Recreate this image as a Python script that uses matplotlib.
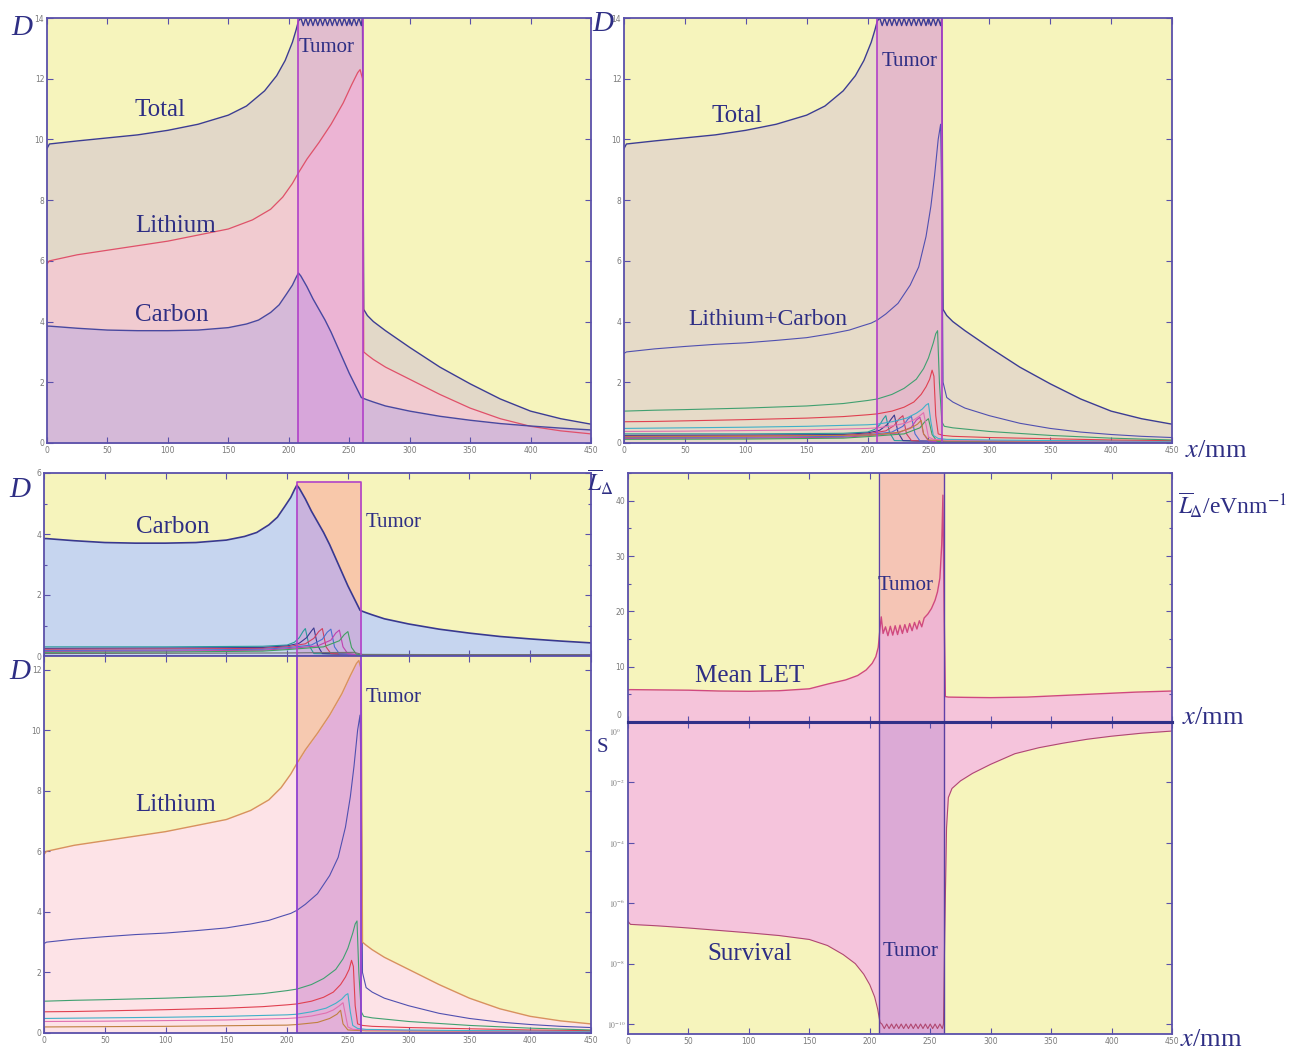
import numpy as np
import matplotlib
matplotlib.use("Agg")
import matplotlib.pyplot as plt
from matplotlib.ticker import MultipleLocator, FixedLocator, FixedFormatter, FuncFormatter, NullLocator

plt.rcParams['font.family'] = ['Liberation Serif', 'DejaVu Serif']
plt.rcParams['mathtext.fontset'] = 'stix'

# ---------------- data ----------------
tumor_range = [208, 261]
x_ticks = [0, 50, 100, 150, 200, 250, 300, 350, 400, 450]

total_x = [0, 2, 25, 50, 75, 100, 125, 150, 165, 180, 190, 197, 203, 206, 208,
           210, 212, 214, 216, 218, 220, 222, 224, 226, 228, 230, 232, 234,
           236, 238, 240, 242, 244, 246, 248, 250, 252, 254, 256, 258, 260, 261,
           262, 265, 270, 280, 300, 325, 350, 375, 400, 425, 450]
total_y = [9.7, 9.85, 9.95, 10.05, 10.15, 10.3, 10.5, 10.8, 11.1, 11.6, 12.1, 12.6, 13.2, 13.6, 13.9,
           14.0, 13.75, 14.0, 13.75, 14.0, 13.75, 14.0, 13.75, 14.0, 13.75, 14.0, 13.75, 14.0,
           13.75, 14.0, 13.75, 14.0, 13.75, 14.0, 13.75, 14.0, 13.75, 14.0, 13.75, 14.0, 13.75, 14.0,
           4.4, 4.2, 4.0, 3.7, 3.15, 2.5, 1.95, 1.45, 1.05, 0.8, 0.62]

li_x = [0, 2, 25, 50, 75, 100, 125, 150, 170, 185, 195, 203, 208, 215, 225, 235, 245, 252, 257, 259, 261,
        262, 265, 270, 280, 300, 325, 350, 375, 400, 425, 450]
li_y = [5.9, 6.0, 6.2, 6.35, 6.5, 6.65, 6.85, 7.05, 7.35, 7.7, 8.1, 8.55, 8.9, 9.35, 9.9, 10.5, 11.2, 11.8, 12.2, 12.3, 12.0,
        3.0, 2.9, 2.75, 2.5, 2.1, 1.6, 1.15, 0.8, 0.55, 0.4, 0.3]

c_x = [0, 2, 25, 50, 75, 100, 125, 150, 165, 175, 185, 192, 198, 203, 206, 208,
       210, 215, 220, 225, 230, 235, 240, 245, 250, 255, 260,
       261, 265, 270, 280, 300, 325, 350, 375, 400, 425, 450]
c_y = [3.85, 3.85, 3.78, 3.72, 3.7, 3.7, 3.72, 3.8, 3.92, 4.05, 4.3, 4.55, 4.9, 5.2, 5.45, 5.6,
       5.5, 5.15, 4.75, 4.4, 4.05, 3.65, 3.2, 2.75, 2.3, 1.9, 1.5,
       1.48, 1.42, 1.35, 1.22, 1.05, 0.88, 0.75, 0.64, 0.56, 0.49, 0.43]

# lithium-beam component curves
lb_x = [0, 2, 25, 50, 75, 100, 125, 150, 170, 185, 195, 203, 208,
        215, 225, 235, 242, 248, 252, 255, 258, 260, 261,
        262, 265, 270, 280, 300, 325, 350, 375, 400, 425, 450]
lb_y = [2.95, 3.0, 3.1, 3.18, 3.25, 3.3, 3.38, 3.47, 3.6, 3.72, 3.85, 3.95, 4.05,
        4.25, 4.6, 5.2, 5.8, 6.8, 7.8, 8.8, 10.0, 10.5, 8.0,
        2.0, 1.5, 1.35, 1.15, 0.9, 0.65, 0.48, 0.36, 0.28, 0.22, 0.18]
lg_x = [0, 25, 50, 100, 150, 180, 200, 208, 220, 230, 240, 246, 250, 254, 256, 257.5, 259, 261, 263, 270, 300, 350, 400, 450]
lg_y = [1.05, 1.08, 1.1, 1.15, 1.22, 1.3, 1.4, 1.45, 1.6, 1.8, 2.1, 2.45, 2.8, 3.3, 3.6, 3.7, 2.0, 0.7, 0.55, 0.5, 0.38, 0.25, 0.16, 0.1]
lr_x = [0, 25, 50, 100, 150, 180, 200, 208, 220, 230, 238, 244, 248, 251, 253, 254.5, 256, 258, 262, 270, 300, 350, 400, 450]
lr_y = [0.7, 0.71, 0.73, 0.77, 0.82, 0.87, 0.93, 0.96, 1.05, 1.18, 1.35, 1.6, 1.85, 2.1, 2.4, 2.2, 0.9, 0.3, 0.25, 0.22, 0.18, 0.14, 0.1, 0.08]
lc_x = [0, 50, 100, 150, 200, 208, 220, 232, 240, 245, 248, 250, 252, 254, 258, 265, 300, 350, 400, 450]
lc_y = [0.48, 0.5, 0.52, 0.55, 0.6, 0.62, 0.7, 0.82, 0.98, 1.12, 1.25, 1.3, 0.7, 0.25, 0.15, 0.12, 0.1, 0.08, 0.07, 0.06]
lp_x = [0, 50, 100, 150, 200, 208, 220, 232, 238, 243, 246, 248, 250, 254, 265, 300, 400, 450]
lp_y = [0.38, 0.39, 0.41, 0.43, 0.48, 0.5, 0.56, 0.66, 0.76, 0.9, 1.0, 0.6, 0.2, 0.12, 0.1, 0.08, 0.05, 0.04]
lo_x = [0, 100, 200, 208, 225, 235, 241, 244, 246, 250, 265, 450]
lo_y = [0.2, 0.22, 0.26, 0.28, 0.35, 0.48, 0.62, 0.75, 0.3, 0.1, 0.07, 0.04]

# carbon-beam component curves
cf1_x = [0, 100, 180, 200, 206, 210, 213, 215, 218, 222, 262, 450]
cf1_y = [0.3, 0.3, 0.32, 0.36, 0.45, 0.6, 0.8, 0.9, 0.35, 0.08, 0.05, 0.04]
cf2_x = [0, 100, 180, 200, 210, 216, 220, 222, 225, 229, 262, 450]
cf2_y = [0.25, 0.26, 0.28, 0.33, 0.42, 0.6, 0.82, 0.92, 0.35, 0.08, 0.04, 0.03]
cf3_x = [0, 100, 180, 200, 215, 222, 226, 229, 232, 236, 262, 450]
cf3_y = [0.22, 0.23, 0.25, 0.3, 0.4, 0.58, 0.8, 0.9, 0.3, 0.08, 0.04, 0.03]
cf4_x = [0, 100, 180, 200, 220, 229, 233, 236, 239, 243, 262, 450]
cf4_y = [0.18, 0.19, 0.22, 0.27, 0.36, 0.55, 0.78, 0.88, 0.3, 0.07, 0.03, 0.02]
cf5_x = [0, 100, 180, 200, 225, 236, 240, 243, 246, 250, 262, 450]
cf5_y = [0.15, 0.16, 0.19, 0.24, 0.33, 0.52, 0.75, 0.85, 0.3, 0.07, 0.03, 0.02]
cf6_x = [0, 100, 180, 200, 230, 243, 247, 250, 253, 257, 262, 450]
cf6_y = [0.12, 0.13, 0.16, 0.21, 0.3, 0.5, 0.7, 0.8, 0.28, 0.06, 0.03, 0.02]
cz_x = [0, 200, 255, 262, 450]
cz_y = [0.08, 0.1, 0.12, 0.05, 0.04]

let_x = [0, 2, 25, 50, 75, 100, 125, 150, 166, 180, 190, 197, 202, 205, 207, 208.5, 209.5,
         211, 213, 215, 217, 219, 221, 223, 225, 227, 229, 231, 233, 235, 237, 239, 241, 243, 245,
         248, 251, 254, 256, 258, 259.5, 260.5, 261.5, 262.5, 265,
         280, 300, 330, 360, 390, 420, 450]
let_y = [5.8, 5.85, 5.8, 5.75, 5.6, 5.55, 5.65, 6.0, 6.9, 7.6, 8.4, 9.4, 10.6, 11.8, 13.5, 17.0, 19.0,
         16.0, 17.2, 15.6, 17.3, 15.7, 17.4, 15.8, 17.5, 16.0, 17.6, 16.2, 17.8, 16.5, 18.0, 16.8, 18.3, 17.2, 18.8,
         19.5, 20.5, 22.0, 23.5, 26.0, 32.0, 41.0, 20.0, 4.6, 4.5,
         4.45, 4.4, 4.5, 4.8, 5.1, 5.4, 5.6]
let_ticks = [0, 10, 20, 30, 40]

surv_x = [0, 2, 25, 50, 75, 100, 125, 150, 165, 178, 188, 195, 200, 204, 206.5, 208.5,
          210, 212, 214, 216, 218, 220, 222, 224, 226, 228, 230, 232, 234,
          236, 238, 240, 242, 244, 246, 248, 250, 252, 254, 256, 258, 260,
          261, 262, 263.5, 265, 268, 275, 285, 300, 320, 340, 360, 380, 400, 425, 450]
surv_log10 = [-6.6, -6.7, -6.75, -6.82, -6.9, -6.98, -7.07, -7.2, -7.4, -7.7, -8.0, -8.35, -8.7, -9.1, -9.5, -9.95,
              -10.0, -10.15, -10.0, -10.15, -10.0, -10.15, -10.0, -10.15, -10.0, -10.15, -10.0, -10.15, -10.0,
              -10.15, -10.0, -10.15, -10.0, -10.15, -10.0, -10.15, -10.0, -10.15, -10.0, -10.15, -10.0, -10.15,
              -10.0, -7.0, -3.5, -2.5, -2.2, -1.95, -1.7, -1.4, -1.05, -0.85, -0.7, -0.57, -0.47, -0.37, -0.3]
surv_tick_exp = [0, -2, -4, -6, -8, -10]

# ---------------- figure ----------------
W, H = 1290, 1052
fig = plt.figure(figsize=(W / 100, H / 100), dpi=100)
fig.patch.set_facecolor('white')

YEL = '#f6f4bc'
SPINE = '#5a50aa'
TXT = '#2e2e84'
TICK = '#7a7a7a'


def add_ax(l, t, r, b):
    return fig.add_axes([l / W, 1 - b / H, (r - l) / W, (b - t) / H])


def style(ax, xlabels=True):
    ax.set_facecolor(YEL)
    for s in ax.spines.values():
        s.set_color(SPINE)
        s.set_linewidth(1.3)
        s.set_zorder(6)
    ax.tick_params(which='both', direction='in', top=True, right=True, color=SPINE,
                   labelcolor=TICK, labelsize=5.5, length=4, width=0.8, pad=2,
                   labelfontfamily='DejaVu Sans')
    ax.tick_params(which='minor', length=2.5)
    ax.set_xlim(0, 450)
    ax.xaxis.set_major_locator(FixedLocator(x_ticks))
    if not xlabels:
        ax.tick_params(labelbottom=False)


def band_fill(ax, x, y, below, above, top, bottom=0):
    x = np.asarray(x, float)
    y = np.asarray(y, float)
    m = (x >= tumor_range[0] - 0.6) & (x <= tumor_range[1] + 0.6)
    ax.fill_between(x[m], bottom, y[m], color=below, lw=0, zorder=1.6)
    ax.fill_between(x[m], y[m], top, color=above, lw=0, zorder=1.6)


def ftext(x, y, s, size=18, color=TXT, **kw):
    fig.text(x / W, 1 - y / H, s, fontsize=size, color=color, ha=kw.pop('ha', 'center'),
             va=kw.pop('va', 'center'), **kw)


BAND_EDGE = '#b040c8'

# ---- A: top-left ----
axA = add_ax(47, 18, 591, 443)
style(axA)
axA.set_ylim(0, 14)
axA.yaxis.set_major_locator(MultipleLocator(2))
axA.fill_between(total_x, total_y, 0, color='#e2d8c8', lw=0, zorder=1)
axA.fill_between(li_x, li_y, 0, color='#f1cbd0', lw=0, zorder=1.1)
axA.fill_between(c_x, c_y, 0, color='#d5b9d8', lw=0, zorder=1.2)
axA.axvspan(*tumor_range, color='#e070e0', alpha=0.25, lw=0, zorder=1.5)
axA.plot(total_x, total_y, color='#3c3c94', lw=1.0, zorder=3)
axA.plot(li_x, li_y, color='#e0506a', lw=0.9, zorder=3)
axA.plot(c_x, c_y, color='#4848a0', lw=1.0, zorder=3)
for xv in tumor_range:
    axA.axvline(xv, color=BAND_EDGE, lw=1.2, zorder=4)

# ---- B: top-right ----
axB = add_ax(624, 18, 1172, 443)
style(axB)
axB.set_ylim(0, 14)
axB.yaxis.set_major_locator(MultipleLocator(2))
axB.fill_between(total_x, total_y, 0, color='#e6dbc8', lw=0, zorder=1)
axB.axvspan(*tumor_range, color='#e070d0', alpha=0.3, lw=0, zorder=1.5)
frag_c = [(cf1_x, cf1_y, '#2a9a9a'), (cf2_x, cf2_y, '#3a3a90'), (cf3_x, cf3_y, '#d04060'),
          (cf4_x, cf4_y, '#4a70d0'), (cf5_x, cf5_y, '#c040b0'), (cf6_x, cf6_y, '#40a060')]
frag_l = [(lo_x, lo_y, '#c08040'), (lp_x, lp_y, '#e070b0'), (lc_x, lc_y, '#40b0c8'),
          (lr_x, lr_y, '#e04050'), (lg_x, lg_y, '#40a070'), (lb_x, lb_y, '#5050b0')]
for fx, fy, col in frag_c + frag_l:
    axB.plot(fx, fy, color=col, lw=0.8, zorder=3)
axB.plot(total_x, total_y, color='#3c3c94', lw=1.0, zorder=3)
for xv in tumor_range:
    axB.axvline(xv, color=BAND_EDGE, lw=1.2, zorder=4)

# ---- C: carbon ----
axC = add_ax(44, 473, 591, 656)
style(axC, xlabels=False)
axC.set_ylim(0, 6)
axC.yaxis.set_major_locator(MultipleLocator(2))
axC.yaxis.set_minor_locator(MultipleLocator(1))
axC.fill_between(c_x, c_y, 0, color='#c6d5ef', lw=0, zorder=1)
band_fill(axC, c_x, c_y, '#c9b3dd', '#f8c8aa', 5.7)
for fx, fy, col in frag_c + [(cz_x, cz_y, '#707070')]:
    axC.plot(fx, fy, color=col, lw=0.8, zorder=3)
axC.plot(c_x, c_y, color='#383890', lw=1.2, zorder=3)
axC.plot([tumor_range[0], tumor_range[0], tumor_range[1], tumor_range[1]],
         [0, 5.7, 5.7, 0], color=BAND_EDGE, lw=1.2, zorder=4)

# ---- D: lithium ----
axD = add_ax(44, 656, 591, 1033)
style(axD)
axD.set_ylim(0, 12.45)
axD.yaxis.set_major_locator(MultipleLocator(2))
axD.fill_between(li_x, li_y, 0, color='#fde3e7', lw=0, zorder=1)
band_fill(axD, li_x, li_y, '#e3b0d8', '#f6c9b0', 12.45)
for fx, fy, col in frag_l:
    axD.plot(fx, fy, color=col, lw=0.8, zorder=3)
axD.plot(li_x, li_y, color='#d89060', lw=1.0, zorder=3)
for xv in tumor_range:
    axD.axvline(xv, color='#9040d0', lw=1.3, zorder=4)

# ---- E: mean LET ----
axE = add_ax(628, 473, 1172, 722)
style(axE, xlabels=False)
axE.set_ylim(0, 45)
axE.yaxis.set_major_locator(FixedLocator(let_ticks))
axE.yaxis.set_major_formatter(FuncFormatter(lambda v, p: '' if v == 0 else f'{v:g}'))
axE.yaxis.set_minor_locator(MultipleLocator(5))
axE.fill_between(let_x, let_y, 0, color='#f5c4da', lw=0, zorder=1)
band_fill(axE, let_x, let_y, '#efb6d2', '#f5c5b5', 45)
axE.plot(let_x, let_y, color='#d04880', lw=1.0, zorder=3)
for xv in tumor_range:
    axE.axvline(xv, color='#6040a8', lw=1.0, zorder=4)
axE.spines['bottom'].set_linewidth(2.2)
axE.spines['bottom'].set_color('#303088')

# ---- F: survival ----
axF = add_ax(628, 722, 1172, 1034)
style(axF)
axF.set_yscale('log')
axF.set_ylim(10 ** -10.33, 1)
axF.yaxis.set_major_locator(FixedLocator([10.0 ** e for e in surv_tick_exp]))
axF.yaxis.set_major_formatter(FixedFormatter(
    ['' if e == 0 else r'$10^{%d}$' % e for e in surv_tick_exp]))
axF.yaxis.set_minor_locator(NullLocator())
surv = 10.0 ** np.asarray(surv_log10)
axF.fill_between(surv_x, surv, 1, color='#f5c4dc', lw=0, zorder=1)
axF.axvspan(*tumor_range, color='#dcaad6', lw=0, zorder=1.5)
axF.plot(surv_x, surv, color='#b04870', lw=0.8, zorder=3)
for xv in tumor_range:
    axF.axvline(xv, color='#5a40a0', lw=1.0, zorder=4)
axF.spines['top'].set_linewidth(2.2)
axF.spines['top'].set_color('#303088')

# tick labels at the shared E/F boundary, separated
ftext(621, 716, '0', size=5.5, color=TICK, family='DejaVu Sans', ha='right')
ftext(621, 732, r'$10^{0}$', size=5.5, color=TICK, family='DejaVu Sans', ha='right')

# ---------------- labels ----------------
for (x, y) in [(22, 28), (603, 24), (20, 490), (20, 672)]:
    ftext(x, y, 'D', size=21, style='italic')

ftext(160, 110, 'Total')
ftext(176, 226, 'Lithium')
ftext(172, 315, 'Carbon')
ftext(327, 47, 'Tumor', size=15)

ftext(737, 116, 'Total')
ftext(768, 320, 'Lithium+Carbon', size=17)
ftext(910, 62, 'Tumor', size=15)

ftext(173, 527, 'Carbon')
ftext(394, 522, 'Tumor', size=15)
ftext(176, 805, 'Lithium')
ftext(394, 697, 'Tumor', size=15)

ftext(750, 676, 'Mean LET')
ftext(906, 586, 'Tumor', size=15)
ftext(750, 954, 'Survival')
ftext(911, 951, 'Tumor', size=15)

ftext(1185, 451, r'$x$/mm', size=19, ha='left')
ftext(1182, 718, r'$x$/mm', size=19, ha='left')
ftext(1180, 1040, r'$x$/mm', size=19, ha='left')
ftext(600, 482, r'$\overline{L}_{\Delta}$', size=17)
ftext(1178, 505, r'$\overline{L}_{\!\Delta}$/eVnm$^{-1}$', size=17, ha='left')
ftext(602, 748, 'S', size=15)

fig.savefig('out.png', dpi=100, facecolor='white')
